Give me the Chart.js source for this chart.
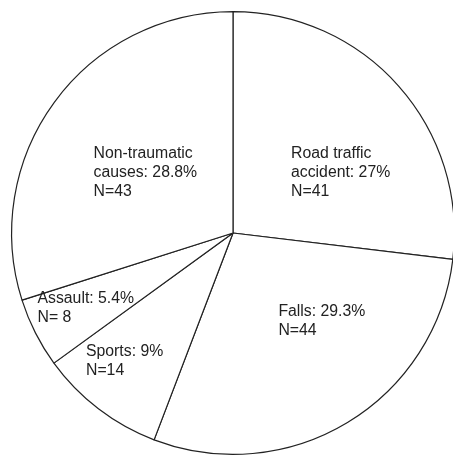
<!DOCTYPE html>
<html>
<head>
<meta charset="utf-8">
<script src="https://cdn.jsdelivr.net/npm/chart.js@4.4.0/dist/chart.umd.min.js"></script>
<style>
  html, body { margin: 0; padding: 0; background: #fff; overflow: hidden; }
  canvas { display: block; }
</style>
</head>
<body>
<canvas id="pie_Chart" width="466" height="466"></canvas>
<script>
// clockwise from 12 o'clock
const cause_labels = ['Road traffic accident', 'Falls', 'Sports', 'Assault', 'Non-traumatic causes'];
const cause_counts = [41, 44, 14, 8, 43];
const cause_pcts = ['27%', '29.3%', '9%', '5.4%', '28.8%'];
const slice_share = [26.9, 28.9, 9.2, 5.1, 29.9];

const label_lines = [
  ['Road traffic', 'accident: ' + cause_pcts[0], 'N=' + cause_counts[0]],
  ['Falls: ' + cause_pcts[1], 'N=' + cause_counts[1]],
  ['Sports: ' + cause_pcts[2], 'N=' + cause_counts[2]],
  ['Assault: ' + cause_pcts[3], 'N= ' + cause_counts[3]],
  ['Non-traumatic', 'causes: ' + cause_pcts[4], 'N=' + cause_counts[4]]
];

// where each text block's first line starts, as a fraction of the radius from the centre
const label_anchor = [
  [0.262, -0.36],
  [0.205, 0.355],
  [-0.664, 0.536],
  [-0.883, 0.295],
  [-0.63, -0.36]
];

const sliceLabels = {
  id: 'sliceLabels',
  afterDatasetsDraw(chart) {
    const ctx = chart.ctx;
    const arcs = chart.getDatasetMeta(0).data;
    ctx.save();
    ctx.font = '15.8px "Liberation Sans", Arial, sans-serif';
    ctx.fillStyle = '#222';
    ctx.textAlign = 'left';
    ctx.textBaseline = 'middle';
    arcs.forEach(function(arc, i) {
      const r = arc.outerRadius;
      const x = arc.x + label_anchor[i][0] * r;
      let y = arc.y + label_anchor[i][1] * r;
      label_lines[i].forEach(function(line) {
        ctx.fillText(line, x, y);
        y += 19;
      });
    });
    ctx.restore();
  }
};

const config_pie = {
  type: 'pie',
  data: {
    labels: cause_labels,
    datasets: [{
      data: slice_share,
      backgroundColor: '#ffffff',
      borderColor: '#222222',
      borderWidth: 1.2,
      hoverOffset: 0
    }]
  },
  options: {
    responsive: false,
    animation: false,
    devicePixelRatio: 1,
    layout: { padding: 11 },
    plugins: {
      legend: { display: false },
      tooltip: { enabled: false },
      title: { display: false }
    }
  },
  plugins: [sliceLabels]
};

let myChart = new Chart(
  document.getElementById('pie_Chart'),
  config_pie
);
</script>
</body>
</html>
